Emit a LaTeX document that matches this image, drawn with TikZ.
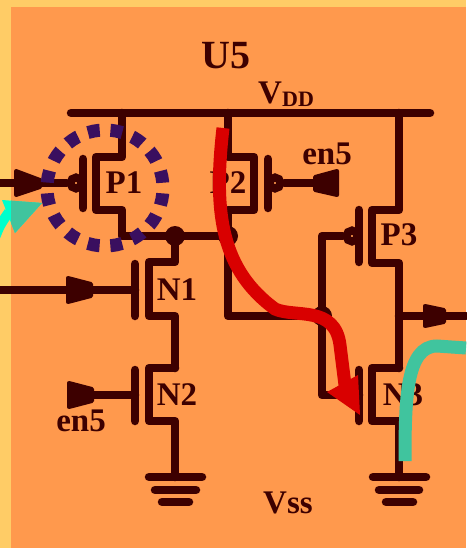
\documentclass[tikz,border=0pt]{standalone}
\usepackage{fontspec}
\setmainfont{Liberation Serif}
\definecolor{wirecol}{HTML}{3D0000}
\definecolor{padcol}{HTML}{FFCC66}
\definecolor{bgcol}{HTML}{FF994D}
\definecolor{pathred}{HTML}{D90000}
\definecolor{pathteal}{HTML}{40C49E}
\definecolor{pathcyan}{HTML}{00FFCC}
\definecolor{ringcol}{HTML}{3A0F5F}
\tikzset{
    wire/.style={draw=wirecol, line width=8.5pt, line cap=round, line join=round},
    pin/.style={draw=wirecol, fill=wirecol, line width=4pt, line join=round},
    dot/.style={circle, fill=wirecol, inner sep=0pt, minimum size=20pt},
    bubble/.style={circle, draw=wirecol, fill=bgcol, line width=8pt, inner sep=0pt, minimum size=11pt},
    lbl/.style={text=wirecol, font=\fontsize{33}{33}\selectfont\bfseries, inner sep=0pt},
}
\begin{document}
\begin{tikzpicture}[x=1pt, y=-1pt]
    \useasboundingbox (0,0) rectangle (466,548);

    % Background
    \fill[padcol] (0,0) rectangle (466,548);
    \fill[bgcol] (11,7) rectangle (466,548);

    % cyan arrow
    \fill[pathcyan] (2,200) -- (42,203) -- (15,233) -- cycle;
    \draw[pathcyan, line width=10pt] (-6,240) .. controls (0,225) .. (9,212);
    \begin{scope}
        \clip (11,7) rectangle (466,548);
        \fill[pathteal] (2,200) -- (42,203) -- (15,233) -- cycle;
    \end{scope}

    % Rail
    \draw[wire] (71,113) -- (430,113);

    % junctions
    \node[dot] (j1) at (175,236) {};
    \node[dot] (j2) at (228,236) {};
    \node[dot] (j3) at (322,316) {};

    % P1
    \draw[wire] (122,113) -- (122,157) -- (96,157) -- (96,210) -- (122,210) -- (122,236) -- (j2.center);
    \draw[wire] (83,159) -- (83,208);
    \node[bubble] (b1) at (76,183) {};
    \draw[wire] (0,183) -- (b1.west);
    \filldraw[pin] (16,171) -- (40,180) -- (40,187) -- (16,195) -- cycle;

    % N1
    \draw[wire] (j1.center) -- (175,262) -- (149,262) -- (149,316) -- (175,316) -- (175,368);
    \draw[wire] (135,264) -- (135,316);
    \draw[wire] (0,290) -- (135,290);
    \filldraw[pin] (68,278) -- (91,284) -- (91,296) -- (68,302) -- cycle;

    % N2
    \draw[wire] (175,368) -- (149,368) -- (149,421) -- (175,421) -- (175,477);
    \draw[wire] (135,370) -- (135,421);
    \draw[wire] (92,395) -- (135,395);
    \filldraw[pin] (69,383) -- (92,389) -- (92,401) -- (69,407) -- cycle;

    % P2
    \draw[wire] (228,113) -- (228,157) -- (254,157) -- (254,210) -- (228,210) -- (228,316) -- (j3.center);
    \draw[wire] (268,159) -- (268,208);
    \node[bubble] (b2) at (275,183) {};
    \draw[wire] (b2.east) -- (315,183);
    \filldraw[pin] (315,177) -- (337,171) -- (337,195) -- (315,190) -- cycle;

    % P3
    \draw[wire] (399,113) -- (399,210) -- (372,210) -- (372,263) -- (399,263) -- (399,368);
    \draw[wire] (359,210) -- (359,262);
    \node[bubble] (b3) at (352,236) {};
    \draw[wire] (b3.west) -- (322,236) -- (j3.center) -- (322,395) -- (359,395);

    % N3
    \draw[wire] (399,368) -- (372,368) -- (372,421) -- (399,421) -- (399,477);
    \draw[wire] (359,370) -- (359,421);
    \draw[wire] (399,316) -- (466,316);
    \filldraw[pin] (425,306) -- (444,310) -- (444,322) -- (425,326) -- cycle;

    % Ground
    \draw[wire] (149,477) -- (202,477);
    \draw[wire] (155,490) -- (196,490);
    \draw[wire] (162,502) -- (189,502);
    \draw[wire] (373,477) -- (426,477);
    \draw[wire] (379,490) -- (419,490);
    \draw[wire] (386,502) -- (413,502);

    % labels
    \node[lbl, font=\fontsize{40}{40}\selectfont\bfseries] (u5) at (226,56) {U5};
    \node[lbl, anchor=west] (vdd) at (258,93) {V};
    \node[lbl, anchor=west, font=\fontsize{22}{22}\selectfont\bfseries] (dd) at (282,99) {DD};
    \node[lbl] (p1) at (124,183) {P1};
    \node[lbl] (p2) at (228,183) {P2};
    \node[lbl] (p3) at (399,235) {P3};
    \node[lbl] (n1) at (177,290) {N1};
    \node[lbl] (n2) at (177,395) {N2};
    \node[lbl] (n3) at (403,395) {N3};
    \node[lbl] (en1) at (327,154) {en5};
    \node[lbl] (en2) at (81,421) {en5};
    \node[lbl] (vss) at (288,503) {Vss};

    % ring
    \draw[ringcol, line width=13pt, dash pattern=on 12pt off 10.78pt, dash phase=17.4pt] (105,188) circle (58);

    % teal path
    \draw[pathteal, line width=13pt] (405,461) .. controls (405,400) and (406,346) .. (437,346) -- (466,348);

    % red path
    \draw[pathred, line width=13pt] (223,128) .. controls (213,215) and (222,270) .. (275,309) .. controls (295,318) and (335,305) .. (340,345) -- (345,385);
    \fill[pathred] (327,392) -- (360,415) -- (358,375) -- cycle;
\end{tikzpicture}
\end{document}
